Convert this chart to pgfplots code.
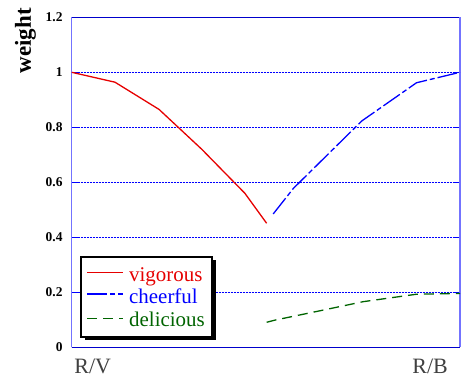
\documentclass[border=0pt]{standalone}
\usepackage{fontspec}
\setmainfont{Liberation Serif}
\usepackage{pgfplots}
\pgfplotsset{compat=1.18}
\definecolor{dgreen}{RGB}{0,100,0}
\definecolor{tickgray}{RGB}{64,64,64}
\definecolor{lred}{RGB}{230,0,0}
\tikzset{
  redline/.style={draw=lred, line width=1.3bp},
  blueline/.style={draw=blue, line width=1.3bp, dash pattern=on 20bp off 3bp on 5bp off 3bp},
  greenline/.style={draw=dgreen, line width=1.3bp, dash pattern=on 10bp off 6bp},
}
\begin{document}
\begin{tikzpicture}
\begin{axis}[
  scale only axis,
  width=388.3bp, height=330bp,
  xmin=0, xmax=1, ymin=0, ymax=1.2,
  xtick={0.054,0.923}, xticklabels={R/V,R/B},
  ytick={0,0.2,0.4,0.6,0.8,1,1.2},
  /pgf/number format/assume math mode=true,
  separate axis lines,
  x axis line style={draw=blue!80!black, line width=1.2bp},
  y axis line style={draw=blue!55, line width=1.5bp},
  xtick style={draw=none},
  ytick style={draw=blue, line width=1bp},
  tick align=inside,
  major tick length=7bp,
  ymajorgrids,
  major grid style={draw=blue, line width=0.8bp, dash pattern=on 2bp off 1bp},
  yticklabel style={font=\bfseries\fontsize{13.5}{13.5}\selectfont, inner sep=0pt, xshift=-9bp},
  xticklabel style={font=\fontsize{22}{22}\selectfont, text=tickgray, inner sep=0pt, yshift=-12bp},
  ylabel={weight},
  ylabel style={font=\bfseries\fontsize{23}{23}\selectfont, rotate=0, inner sep=0pt, at={(rel axis cs:-0.119,1.028)}, anchor=east},
]
\addplot[redline] coordinates {
 (0,1.0) (0.1115,0.964) (0.225,0.865) (0.335,0.72) (0.446,0.56) (0.502,0.451)};
\addplot[blueline] coordinates {
 (0.519,0.485) (0.571,0.578) (0.747,0.823) (0.888,0.962) (1.0,1.0)};
\addplot[greenline] coordinates {
 (0.502,0.091) (0.524,0.099) (0.64,0.133) (0.751,0.166) (0.888,0.193) (1.0,0.196)};
\end{axis}
% legend
\begin{scope}[shift={(current axis.south west)}]
\fill[black] (12.8bp,6.8bp) rectangle (143.8bp,86.8bp);
\filldraw[fill=white, draw=black, line width=2.2bp] (9.3bp,10.3bp) rectangle (140.3bp,90.3bp);
\draw[redline] (15.3bp,75bp) -- (51.3bp,75bp);
\draw[blueline] (15.3bp,53.3bp) -- (51.3bp,53.3bp);
\draw[greenline] (15.3bp,29bp) -- (51.3bp,29bp);
\node[anchor=base west, inner sep=0pt, text=lred, font=\fontsize{21}{21}\selectfont] at (57.3bp,65.6bp) {vigorous};
\node[anchor=base west, inner sep=0pt, text=blue, font=\fontsize{21}{21}\selectfont] at (57.3bp,44bp) {cheerful};
\node[anchor=base west, inner sep=0pt, text=dgreen, font=\fontsize{21}{21}\selectfont] at (57.3bp,21.3bp) {delicious};
\end{scope}
\path (current axis.south west) ++(-71.7bp,-33.7bp) rectangle ++(463bp,381bp);
\end{tikzpicture}
\end{document}
